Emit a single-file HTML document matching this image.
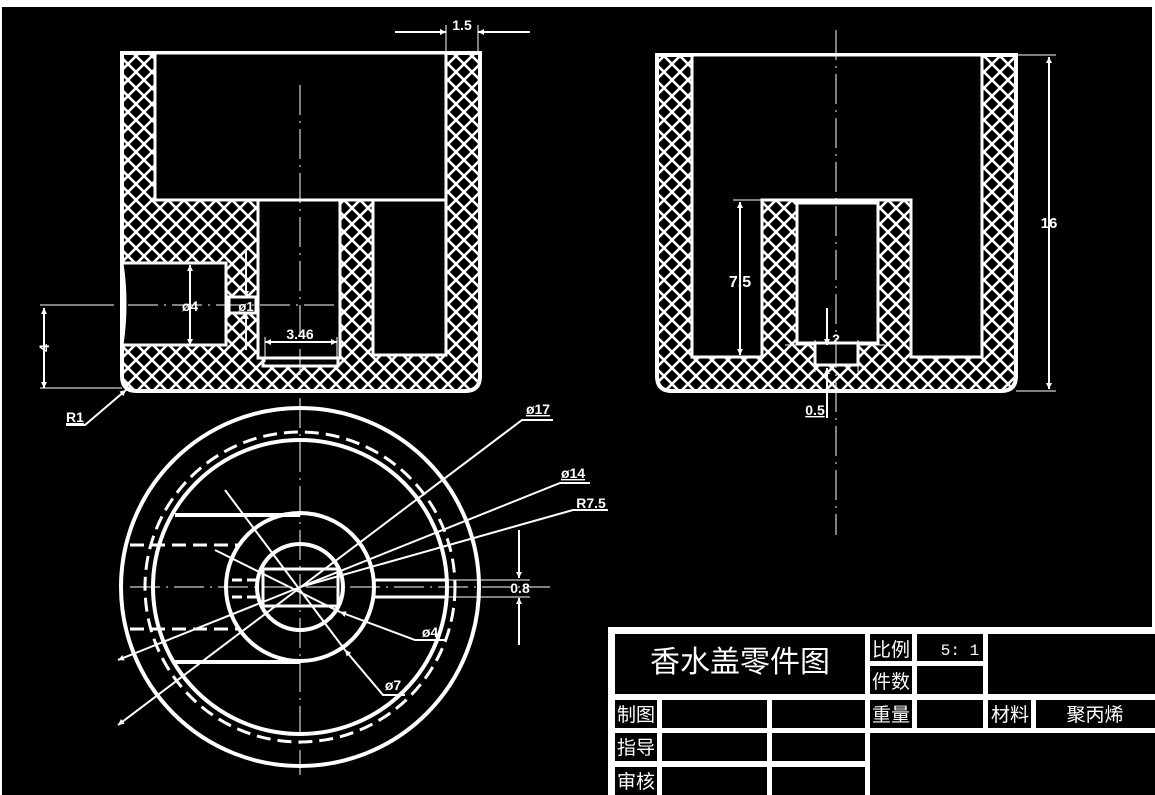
<!DOCTYPE html>
<html><head><meta charset="utf-8"><style>
html,body{margin:0;padding:0;background:#000;}
svg{display:block}
text{font-family:"Liberation Sans","DejaVu Sans",sans-serif;fill:#fff;font-weight:bold}
.cj{font-family:"Liberation Sans","Noto Sans CJK SC",sans-serif;font-weight:normal}
</style></head><body>
<svg width="1155" height="795" viewBox="0 0 1155 795" xmlns="http://www.w3.org/2000/svg">
<defs>
<pattern id="h" patternUnits="userSpaceOnUse" width="16" height="16">
<path d="M-2,-2L18,18M-2,18L18,-2" stroke="#fff" stroke-width="2.6"/>
</pattern>
<marker id="a" viewBox="0 0 10 10" refX="10" refY="5" markerWidth="14" markerHeight="6" orient="auto-start-reverse" markerUnits="userSpaceOnUse"><path d="M0,0L10,5L0,10Z" fill="#fff"/></marker>
</defs>
<rect x="0" y="0" width="1155" height="795" fill="#fff"/>
<rect x="2" y="7" width="1150" height="788" fill="#000"/>

<!-- LEFT VIEW -->
<path d="M122,53H480V376Q480,391 465,391H137Q122,391 122,376Z" fill="url(#h)" stroke="#fff" stroke-width="4"/>
<g fill="#000" stroke="#fff" stroke-width="3">
<rect x="155" y="53" width="291" height="147"/>
<rect x="258" y="200" width="82" height="158"/>
<rect x="263" y="358" width="75" height="8"/>
<rect x="373" y="200" width="73" height="155"/>
<path d="M122,263H226V345H122Q128,304 122,263Z"/>
<rect x="229" y="297" width="27" height="16"/>
</g>
<g stroke="#fff" stroke-width="1" fill="none">
<path d="M300,85V375" stroke-dasharray="30,6,2,6"/>
<path d="M40,305H340" stroke-dasharray="30,6,2,6"/>
<path d="M395,32H446" stroke-width="2" marker-end="url(#a)"/>
<path d="M530,32H478" stroke-width="2" marker-end="url(#a)"/>
<path d="M446,25V53M478,25V53"/>
<path d="M190,305V265" stroke-width="2" marker-end="url(#a)"/>
<path d="M190,305V345" stroke-width="2" marker-end="url(#a)"/>
<path d="M246,250V297" stroke-width="2" marker-end="url(#a)"/>
<path d="M246,350V313" stroke-width="2" marker-end="url(#a)"/>
<path d="M300,342H265" stroke-width="2" marker-end="url(#a)"/>
<path d="M300,342H337" stroke-width="2" marker-end="url(#a)"/>
<path d="M265,337V362M337,337V362"/>
<path d="M44,346V308" stroke-width="2" marker-end="url(#a)"/>
<path d="M44,346V388" stroke-width="2" marker-end="url(#a)"/>
<path d="M40,305H85M40,388H122"/>
<path d="M66,425H85L126,390" stroke-width="2" marker-end="url(#a)"/>
</g>
<text x="462" y="30" font-size="14" text-anchor="middle">1.5</text>
<text x="190" y="311" font-size="14" text-anchor="middle">ø4</text>
<text x="246" y="311" font-size="13" text-anchor="middle">ø1</text>
<text x="300" y="339" font-size="14" text-anchor="middle">3.46</text>
<text transform="translate(49,348) rotate(-90)" font-size="14" text-anchor="middle">4</text>
<text x="75" y="422" font-size="14" text-anchor="middle" text-decoration="underline">R1</text>

<!-- RIGHT VIEW -->
<path d="M657,55H1016V376Q1016,391 1001,391H672Q657,391 657,376Z" fill="url(#h)" stroke="#fff" stroke-width="4"/>
<path d="M692,55V357H762V200H911V357H982V55Z" fill="#000" stroke="#fff" stroke-width="3"/>
<rect x="797" y="203" width="81" height="140" fill="#000" stroke="#fff" stroke-width="3"/>
<rect x="815" y="343" width="43" height="22" fill="#000" stroke="#fff" stroke-width="3"/>
<g stroke="#fff" stroke-width="1" fill="none">
<path d="M836,30V535" stroke-dasharray="30,6,2,6"/>
<path d="M1049,222V57" stroke-width="2" marker-end="url(#a)"/>
<path d="M1049,222V389" stroke-width="2" marker-end="url(#a)"/>
<path d="M1016,55H1056M1016,391H1056"/>
<path d="M740,280V202" stroke-width="2" marker-end="url(#a)"/>
<path d="M740,280V355" stroke-width="2" marker-end="url(#a)"/>
<path d="M733,200H762"/>
<path d="M827,308V345" stroke-width="2" marker-end="url(#a)"/>
<path d="M827,418V368" stroke-width="2" marker-end="url(#a)"/>
<path d="M785,345H815M858,345H885M815,340V372M858,340V372"/>
</g>
<text x="1049" y="228" font-size="15" text-anchor="middle">16</text>
<text x="740" y="287" font-size="16" text-anchor="middle">7.5</text>
<text x="836" y="344" font-size="14" text-anchor="middle">2</text>
<text x="815" y="415" font-size="14" text-anchor="middle" text-decoration="underline">0.5</text>

<!-- BOTTOM VIEW -->
<g stroke="#fff" fill="none">
<circle cx="300" cy="587" r="179" stroke-width="4"/>
<circle cx="300" cy="587" r="155" stroke-width="3" stroke-dasharray="14,7"/>
<circle cx="300" cy="587" r="147" stroke-width="4"/>
<circle cx="300" cy="587" r="74" stroke-width="4"/>
<circle cx="300" cy="587" r="43" stroke-width="4"/>
<rect x="263" y="569" width="75" height="37" stroke-width="3" fill="#000"/>
<path d="M175,515H300M175,662H300" stroke-width="4"/>
<path d="M130,545H240M130,629H240" stroke-width="3" stroke-dasharray="14,7"/>
<path d="M232,580H262M232,597H262" stroke-width="3" stroke-dasharray="10,5"/>
<path d="M375,580H445M375,597H445" stroke-width="3"/>
<path d="M300,398V775M130,587H550" stroke-width="1" stroke-dasharray="30,6,2,6"/>
<path d="M553,420H522L118,725" stroke-width="2" marker-end="url(#a)"/>
<path d="M590,483H560L118,660" stroke-width="2" marker-end="url(#a)"/>
<path d="M608,510H573L300,587" stroke-width="2"/>
<path d="M445,640H415L340,612" stroke-width="2" marker-end="url(#a)"/>
<path d="M340,612L215,550" stroke-width="2"/>
<path d="M405,695H383L345,650" stroke-width="2" marker-end="url(#a)"/>
<path d="M345,650L225,490" stroke-width="2"/>
<path d="M519,530V578" stroke-width="2" marker-end="url(#a)"/>
<path d="M519,645V598" stroke-width="2" marker-end="url(#a)"/>
<path d="M445,580H530M445,597H530" stroke-width="1"/>
</g>
<text x="538" y="414" font-size="14" text-anchor="middle" text-decoration="underline">ø17</text>
<text x="573" y="478" font-size="14" text-anchor="middle" text-decoration="underline">ø14</text>
<text x="591" y="508" font-size="14" text-anchor="middle" text-decoration="underline">R7.5</text>
<text x="520" y="593" font-size="14" text-anchor="middle">0.8</text>
<text x="430" y="637" font-size="14" text-anchor="middle">ø4</text>
<text x="393" y="690" font-size="14" text-anchor="middle">ø7</text>

<!-- TITLE BLOCK -->
<rect x="608" y="627" width="547" height="168" fill="#fff"/>
<g fill="#000">
<rect x="615" y="634" width="250" height="60"/>
<rect x="870" y="634" width="42" height="27"/>
<rect x="917" y="634" width="66" height="27"/>
<rect x="870" y="666" width="42" height="28"/>
<rect x="917" y="666" width="66" height="28"/>
<rect x="988" y="634" width="167" height="60"/>
<rect x="615" y="700" width="42" height="28"/>
<rect x="662" y="700" width="105" height="28"/>
<rect x="772" y="700" width="93" height="28"/>
<rect x="870" y="700" width="42" height="28"/>
<rect x="917" y="700" width="66" height="28"/>
<rect x="988" y="700" width="43" height="28"/>
<rect x="1036" y="700" width="119" height="28"/>
<rect x="615" y="733" width="42" height="28"/>
<rect x="662" y="733" width="105" height="28"/>
<rect x="772" y="733" width="93" height="28"/>
<rect x="615" y="767" width="42" height="28"/>
<rect x="662" y="767" width="105" height="28"/>
<rect x="772" y="767" width="93" height="28"/>
<rect x="870" y="733" width="285" height="62"/>
</g>
<g class="cj">
<text x="740" y="672" font-size="30" text-anchor="middle" class="cj">香水盖零件图</text>
<text x="891" y="656" font-size="19" text-anchor="middle" class="cj">比例</text>
<text x="960" y="655" font-size="16" text-anchor="middle" class="cj" style="font-family:'Liberation Mono',monospace">5: 1</text>
<text x="891" y="688" font-size="19" text-anchor="middle" class="cj">件数</text>
<text x="636" y="721" font-size="19" text-anchor="middle" class="cj">制图</text>
<text x="891" y="721" font-size="19" text-anchor="middle" class="cj">重量</text>
<text x="1010" y="721" font-size="19" text-anchor="middle" class="cj">材料</text>
<text x="1095" y="721" font-size="19" text-anchor="middle" class="cj">聚丙烯</text>
<text x="636" y="754" font-size="19" text-anchor="middle" class="cj">指导</text>
<text x="636" y="788" font-size="19" text-anchor="middle" class="cj">审核</text>
</g>
</svg>
</body></html>
